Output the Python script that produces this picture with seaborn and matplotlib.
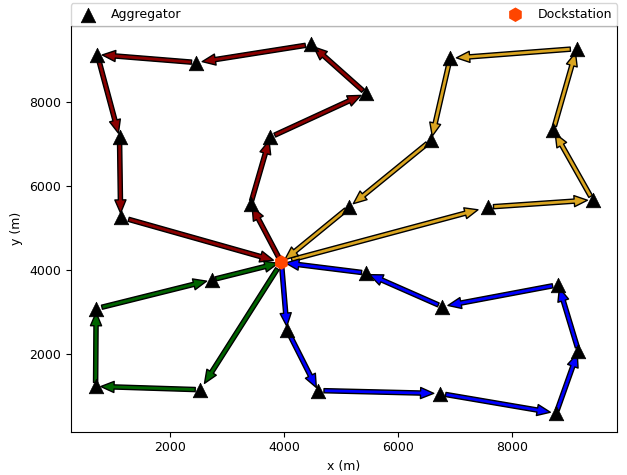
import matplotlib
matplotlib.use("Agg")
import matplotlib.pyplot as plt
import seaborn as sns
import pandas as pd

plt.rcParams["font.size"] = 9

# Depot location
dock_x = [3950]
dock_y = [4170]

# Aggregator visiting order for each route (dock -> ... -> dock)
red_x = [3410, 3750, 5430, 4470, 2460, 720, 1110, 1130]
red_y = [5560, 7150, 8200, 9360, 8930, 9120, 7150, 5250]

gold_x = [7580, 9410, 8720, 9130, 6910, 6580, 5140]
gold_y = [5490, 5660, 7320, 9260, 9030, 7080, 5490]

green_x = [2530, 690, 700, 2740]
green_y = [1140, 1220, 3070, 3760]

blue_x = [4050, 4590, 6730, 8770, 9160, 8810, 6770, 5430]
blue_y = [2570, 1120, 1050, 580, 2070, 3640, 3120, 3920]

routes = [
    (red_x, red_y, "#8B0000"),
    (gold_x, gold_y, "#DAA520"),
    (green_x, green_y, "#006400"),
    (blue_x, blue_y, "#0000FF"),
]

agg = pd.DataFrame({
    "x": red_x + gold_x + green_x + blue_x,
    "y": red_y + gold_y + green_y + blue_y,
})
dock = pd.DataFrame({"x": dock_x, "y": dock_y})

fig = plt.figure(figsize=(6.27, 4.75), dpi=100)
ax = fig.add_axes([0.1128, 0.0912, 0.872, 0.854])

sns.scatterplot(data=agg, x="x", y="y", marker="^", color="black", s=110,
                edgecolor="black", linewidth=0.5, zorder=5, label="Aggregator", ax=ax)
sns.scatterplot(data=dock, x="x", y="y", marker="h", color="#FF4500", s=110,
                edgecolor="none", zorder=6, label="Dockstation", ax=ax)

for xs, ys, col in routes:
    px = dock_x + xs + dock_x
    py = dock_y + ys + dock_y
    for i in range(len(px) - 1):
        ax.annotate("", xy=(px[i + 1], py[i + 1]), xytext=(px[i], py[i]),
                    arrowprops=dict(facecolor=col, edgecolor="black", lw=1,
                                    width=3, headwidth=8, headlength=9.5,
                                    shrink=0.05),
                    zorder=3)

ax.set_xlabel("x (m)")
ax.set_ylabel("y (m)")
ax.set_xticks([2000, 4000, 6000, 8000])
ax.set_yticks([2000, 4000, 6000, 8000])

ax.legend(loc="lower left", bbox_to_anchor=(0, 1.0, 1, 0.1), mode="expand",
          ncol=2, borderaxespad=0)

fig.savefig("out.png", dpi=100)
